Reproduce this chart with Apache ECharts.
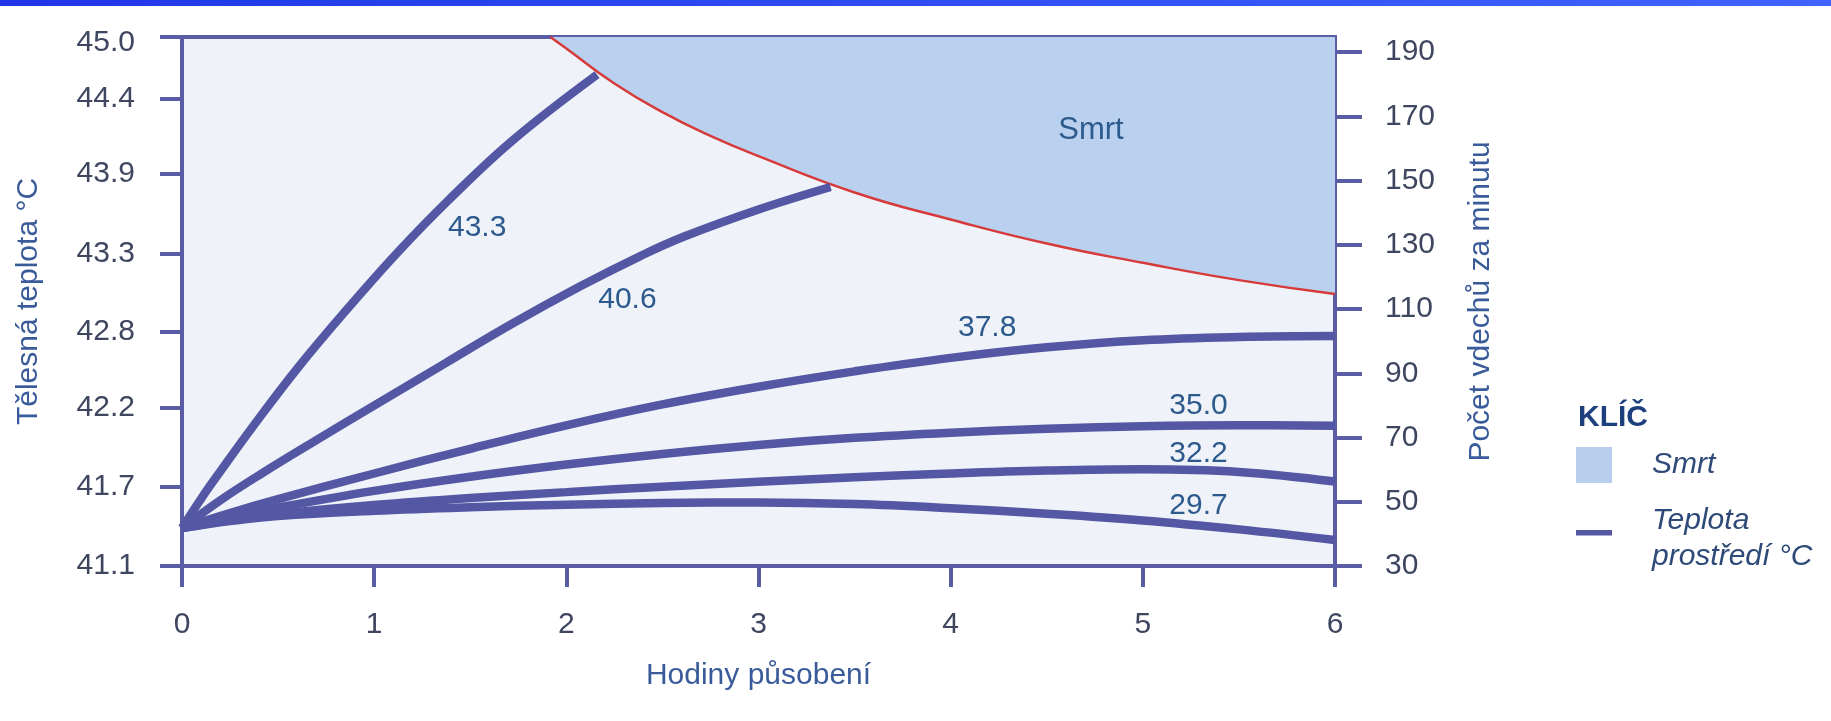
<!DOCTYPE html>
<html>
<head>
<meta charset="utf-8">
<script src="https://cdn.jsdelivr.net/npm/echarts@6/dist/echarts.min.js"></script>
<style>
  html, body { margin: 0; padding: 0; background: #ffffff; }
  #main { width: 1831px; height: 721px; }
</style>
</head>
<body>
<div id="main"></div>
<script>
// hodiny pusobeni (x) a hodnoty na prave ose (pocet vdechu za minutu)
const hours = [0, 0.25, 0.5, 1, 1.5, 2, 2.5, 3, 3.5, 4, 4.5, 5, 5.5, 6];
const t378 = [41.8, 46.5, 50.8, 58.8, 66.5, 73.8, 80.3, 85.8, 90.6, 94.8, 98.1, 100.3, 101.3, 101.6];
const t350 = [41.8, 45.2, 48.2, 53.4, 57.8, 61.6, 64.9, 67.7, 69.9, 71.5, 72.7, 73.5, 73.8, 73.7];
const t322 = [41.8, 44.2, 46.2, 49, 51.2, 53, 54.7, 56.2, 57.6, 58.8, 59.7, 60.1, 59.3, 56.3];
const t297 = [41.8, 44, 45.6, 47.2, 48.3, 49.1, 49.6, 49.8, 49.3, 48, 46.3, 44.2, 41.4, 38.1];

const hours433 = [0, 0.1, 0.2, 0.37, 0.6, 0.86, 1.12, 1.38, 1.72, 2.16];
const t433 = [41.8, 51, 59.5, 73.5, 91.5, 110, 127.5, 143.5, 162.5, 183];
const hours406 = [0, 0.2, 0.42, 0.68, 1.03, 1.38, 1.72, 2.07, 2.385, 2.61, 3, 3.375];
const t406 = [41.8, 50.5, 59, 68.5, 81, 93.5, 105.5, 117, 126.5, 132.5, 141, 148];

// hranice smrti
const deathHours = [1.917, 2, 2.25, 2.5, 2.75, 3, 3.5, 4, 4.5, 5, 5.5, 6];
const deathLine = [194.7, 191.1, 180.2, 171.3, 163.9, 157.6, 146.3, 137.9, 130.4, 124.4, 119, 114.7];

// popisky krivek (teplota prostredi) a jejich umisteni [hodiny, vdechy]
const ambientTemps = ['43.3', '40.6', '37.8', '35.0', '32.2', '29.7'];
const ambientLabelAt = [[1.536, 135.2], [2.318, 112.8], [4.19, 104.1], [5.29, 79.8], [5.29, 64.9], [5.29, 48.7]];
const deathLabelAt = [4.73, 165.7];

// osy
const xTicks = [0, 1, 2, 3, 4, 5, 6];
const rightTicks = [30, 50, 70, 90, 110, 130, 150, 170, 190];
const leftTickLabels = ['41.1', '41.7', '42.2', '42.8', '43.3', '43.9', '44.4', '45.0'];
const leftTickAt = [30, 54.6, 79.2, 102.8, 127.1, 152, 175.4, 194.7];
const leftLabelAt = [30, 54.6, 79.2, 102.8, 127.1, 152, 175.4, 192.8];

const axisColor = '#5b5ca6';
const lineColor = '#5457a4';
const textColor = '#3e4660';
const nameColor = '#3a5b99';
const labelColor = '#2d5a8c';
const font = "'Liberation Sans', Arial, sans-serif";
const legendName = 'Teplota\nprostředí °C';

function pairs(xs, ys) {
    return xs.map(function (x, i) { return [x, ys[i]]; });
}

const curves = [
    pairs(hours433, t433),
    pairs(hours406, t406),
    pairs(hours, t378),
    pairs(hours, t350),
    pairs(hours, t322),
    pairs(hours, t297)
];

const chart = echarts.init(document.getElementById('main'));

const series = [{
    name: 'Smrt',
    type: 'line',
    yAxisIndex: 1,
    smooth: 0.5,
    showSymbol: false,
    z: 1,
    data: pairs(deathHours, deathLine),
    lineStyle: { color: '#d63a3a', width: 2.5 },
    itemStyle: { color: '#b7cfec' },
    areaStyle: { origin: 'end', color: '#b9d1ee', opacity: 1 },
    markPoint: {
        symbol: 'rect', symbolSize: 1,
        itemStyle: { color: 'rgba(0,0,0,0)' },
        label: { show: true, position: 'inside', formatter: 'Smrt', color: labelColor, fontSize: 31, fontFamily: font },
        data: [{ coord: deathLabelAt }]
    }
}];

curves.forEach(function (data, i) {
    series.push({
        name: legendName,
        type: 'line',
        yAxisIndex: 1,
        smooth: 0.4,
        showSymbol: false,
        z: 3,
        data: data,
        lineStyle: { color: lineColor, width: 8.5, cap: 'butt' },
        itemStyle: { color: lineColor },
        markPoint: {
            symbol: 'rect', symbolSize: 1,
            itemStyle: { color: 'rgba(0,0,0,0)' },
            label: { show: true, position: 'inside', formatter: ambientTemps[i], color: labelColor, fontSize: 30, fontFamily: font },
            data: [{ coord: ambientLabelAt[i] }]
        }
    });
});

function nearestLeft(v) {
    let best = 0;
    leftLabelAt.forEach(function (p, i) {
        if (Math.abs(p - v) < Math.abs(leftLabelAt[best] - v)) best = i;
    });
    return leftTickLabels[best];
}

chart.setOption({
    backgroundColor: '#ffffff',
    animation: false,
    textStyle: { fontFamily: font },
    title: {
        text: 'KLÍČ',
        left: 1578,
        top: 403,
        padding: 0,
        textStyle: { fontSize: 30, fontWeight: 'bold', color: '#1e3f7e', fontFamily: font }
    },
    legend: {
        orient: 'vertical',
        left: 1576,
        top: 447,
        itemWidth: 36,
        itemHeight: 36,
        itemGap: 20,
        padding: 0,
        selectedMode: false,
        textStyle: { fontSize: 30, fontStyle: 'italic', color: '#2e4a78', lineHeight: 36, padding: [0, 0, 0, 35], fontFamily: font },
        data: [
            { name: 'Smrt', icon: 'rect', itemStyle: { color: '#b7cfec', borderWidth: 0 } },
            { name: legendName, icon: 'path://M0,0h40v6h-40zM0,20h1v0h-1z', itemStyle: { color: '#5558a0', borderWidth: 0 } }
        ]
    },
    graphic: [{
        type: 'rect',
        shape: { x: 0, y: 0, width: 1831, height: 6 },
        style: {
            fill: new echarts.graphic.LinearGradient(0, 0, 1, 0, [
                { offset: 0, color: '#1f36e6' },
                { offset: 1, color: '#3f63ff' }
            ])
        }
    }],
    grid: {
        left: 182, right: 496, top: 37, bottom: 155,
        show: true,
        backgroundColor: '#eff3f9',
        borderColor: axisColor,
        borderWidth: 4
    },
    xAxis: {
        type: 'value',
        min: 0, max: 6, interval: 1,
        name: 'Hodiny působení',
        nameLocation: 'middle',
        nameGap: 95,
        nameTextStyle: { fontSize: 30, color: nameColor },
        axisLine: { show: true, lineStyle: { color: axisColor, width: 4 } },
        axisTick: { show: true, length: 21, customValues: xTicks, lineStyle: { color: axisColor, width: 4 } },
        axisLabel: { fontSize: 30, color: textColor, margin: 44, customValues: xTicks },
        splitLine: { show: false }
    },
    yAxis: [{
        type: 'value',
        position: 'left',
        min: 30, max: 194.7,
        name: 'Tělesná teplota °C',
        nameLocation: 'middle',
        nameGap: 138,
        nameTextStyle: { fontSize: 30, color: nameColor },
        axisLine: { show: true, lineStyle: { color: axisColor, width: 4 } },
        axisTick: { show: true, length: 22, customValues: leftTickAt, lineStyle: { color: axisColor, width: 4 } },
        axisLabel: {
            fontSize: 30, color: textColor, margin: 47,
            customValues: leftLabelAt,
            formatter: function (v) { return nearestLeft(v); }
        },
        splitLine: { show: false }
    }, {
        type: 'value',
        position: 'right',
        min: 30, max: 194.7,
        name: 'Počet vdechů za minutu',
        nameLocation: 'middle',
        nameGap: 131,
        nameTextStyle: { fontSize: 30, color: nameColor },
        axisLine: { show: true, lineStyle: { color: axisColor, width: 4 } },
        axisTick: { show: true, length: 27, customValues: rightTicks, lineStyle: { color: axisColor, width: 4 } },
        axisLabel: { fontSize: 30, color: textColor, margin: 50, customValues: rightTicks },
        splitLine: { show: false }
    }],
    series: series
});
</script>
</body>
</html>
